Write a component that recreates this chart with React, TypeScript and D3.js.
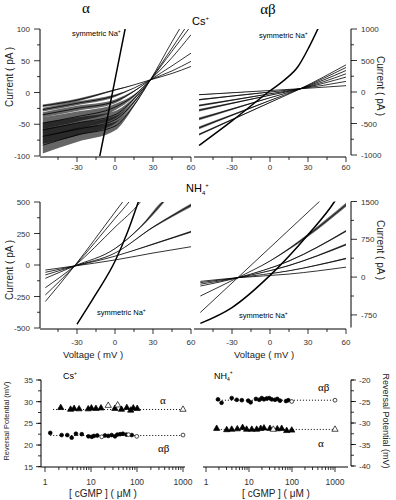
import React from "react";
import * as d3 from "d3";

type Pt = [number, number];

const SANS = "'Liberation Sans', Arial, sans-serif";
const SERIF = "'Liberation Serif', 'Times New Roman', serif";

// ---------- alpha, Cs+ (pA vs mV) ----------
const csAlpha: Pt[][] = [
  [[-57, -21], [-30, -12], [0, 4], [15, 12], [28, 20], [45, 30], [60, 41]],
  [[-57, -27], [-30, -17], [0, -5], [15, 7], [28, 20], [45, 34], [60, 49]],
  [[-57, -35], [-30, -25], [0, -14], [15, 2], [28, 20], [45, 42], [60, 62]],
  [[-57, -48], [-30, -38], [0, -23], [15, -5], [28, 20], [45, 55], [60, 91]],
  [[-57, -59], [-30, -48], [0, -35], [15, -10], [28, 20], [45, 65], [60, 105]],
  [[-57, -69], [-30, -58], [0, -43], [15, -15], [28, 20], [45, 70], [60, 115]],
  [[-57, -83], [-30, -67], [0, -53], [15, -20], [28, 20], [45, 80], [60, 130]],
];
// half-width of the current noise at each point (pA)
const csAlphaNoise: number[][] = [
  [2, 2, 1, 0, 0, 0, 0],
  [3, 3, 2, 0, 0, 0, 0],
  [4, 4, 3, 1, 0, 0, 0],
  [9, 8, 5, 2, 0, 0, 0],
  [11, 9, 6, 2, 0, 0, 0],
  [12, 10, 6, 2, 0, 0, 0],
  [13, 11, 7, 2, 0, 0, 0],
];
const csAlphaNa: Pt[] = [[-14, -120], [0, 20], [10, 120]];

// ---------- alpha-beta, Cs+ ----------
const csAb: Pt[][] = [
  [[-56, -43], [-30, -12], [0, 24], [24, 52], [60, 100]],
  [[-56, -122], [-30, -65], [0, 0], [24, 52], [60, 168]],
  [[-56, -216], [-30, -129], [0, -28], [24, 52], [60, 237]],
  [[-56, -290], [-30, -179], [0, -51], [24, 52], [60, 289]],
  [[-56, -427], [-30, -271], [0, -91], [24, 52], [60, 341]],
  [[-56, -569], [-30, -367], [0, -134], [24, 52], [60, 389]],
  [[-56, -675], [-30, -439], [0, -166], [24, 52], [60, 431]],
];
const csAbNoise: number[][] = [
  [6, 4, 0, 0, 0],
  [12, 8, 2, 0, 0],
  [16, 10, 3, 0, 0],
  [20, 12, 4, 0, 0],
  [22, 14, 4, 0, 0],
  [22, 14, 4, 0, 0],
  [16, 10, 3, 0, 0],
];
const csAbNa: Pt[] = [[-56, -848], [-30, -458], [0, 20], [12, 200], [22, 400], [31, 720], [38, 1010]];

// ---------- alpha, NH4+ ----------
const nhAlpha: Pt[][] = [
  [[-55, -40], [-32, -8], [0, 40], [30, 95], [60, 145]],
  [[-55, -58], [-32, -8], [0, 70], [30, 165], [60, 264]],
  [[-55, -79], [-32, -8], [0, 95], [30, 300], [60, 475]],
  [[-55, -106], [-32, -8], [0, 130], [20, 300], [38, 500], [42, 540]],
  [[-55, -180], [-32, -8], [0, 300], [20, 500], [23, 540]],
  [[-55, -238], [-32, -8], [0, 370], [11, 500], [14, 540]],
  [[-55, -290], [-32, -8], [0, 420], [6, 500], [9, 540]],
];
const nhAlphaNoise: number[][] = [
  [0, 0, 0, 0, 0],
  [0, 0, 0, 5, 8],
  [0, 0, 0, 6, 14],
  [0, 0, 2, 6, 12, 0],
  [0, 0, 0, 0, 0],
  [0, 0, 0, 0, 0],
  [0, 0, 0, 0, 0],
];
const nhAlphaNa: Pt[] = [[-30, -470], [-15, -230], [0, 30], [10, 264], [18.4, 500], [20, 545]];

// ---------- alpha-beta, NH4+ ----------
const nhAb: Pt[][] = [
  [[-55, -85], [-25.5, -12], [15, 60], [60, 197]],
  [[-55, -110], [-25.5, -12], [15, 125], [60, 369]],
  [[-55, -140], [-25.5, -12], [15, 230], [60, 645]],
  [[-55, -177], [-25.5, -12], [15, 320], [60, 915]],
  [[-55, -375], [-25.5, -12], [0, 320], [30, 830], [60, 1434]],
  [[-55, -702], [-25.5, -12], [39, 1500], [42, 1570]],
];
const nhAbNoise: number[][] = [
  [0, 0, 0, 0],
  [0, 0, 6, 15],
  [0, 0, 8, 20],
  [0, 0, 8, 22],
  [0, 0, 6, 30, 40],
  [0, 0, 0, 0],
];
const nhAbNa: Pt[] = [[-55, -919], [-30, -604], [0, 34], [30, 842], [51, 1500], [54, 1620]];

// ---------- reversal potentials vs [cGMP] ----------
const csAlphaC = [2.2, 3.6, 4.3, 5.5, 8.7, 10.2, 12.8, 16.5, 33, 46, 60, 73, 83, 101];
const csAlphaE = [28.6, 28.2, 28.4, 28.3, 28.3, 28.5, 28.4, 28.5, 28.4, 28.2, 28.6, 28.0, 28.5, 28.4];
const csAlphaOpenC = [23.7, 38, 1000];
const csAlphaOpenE = [29.1, 29.2, 28.2];
const csAlphaFit = 28.2;

const csAbC = [1.3, 2.3, 3.05, 3.8, 4.7, 6.3, 8.8, 10.4, 11.6, 13.7, 20.1, 23.7, 28.1, 33.2, 37.3, 42.9, 49.3, 58.6, 77.1];
const csAbE = [22.8, 22.3, 22.3, 21.7, 22.6, 22.5, 22.0, 21.9, 22.1, 22.2, 22.2, 22.1, 22.3, 22.0, 22.4, 22.5, 22.6, 22.4, 22.3];
const csAbOpenC = [17.1, 65.4, 98.8, 1000];
const csAbOpenE = [21.9, 22.4, 22.0, 22.3];
const csAbFit = 22.2;

const nhAbC = [1.9, 2.3, 3.96, 5.2, 6.8, 9.6, 10.9, 14.5, 17.3, 19.8, 22.3, 25.8, 29.6, 33.7, 40.2, 45.5, 52.6, 72.6, 82];
const nhAbE = [-24.5, -25.3, -24.2, -24.6, -24.7, -24.8, -25.2, -24.4, -24.6, -24.2, -24.5, -24.3, -24.2, -24.5, -24.6, -24.4, -24.8, -24.9, -24.7];
const nhAbOpenC = [98.6, 1000];
const nhAbOpenE = [-25.0, -24.7];
const nhAbFit = -24.7;

const nhAlphaC = [1.77, 3.03, 3.96, 5.35, 7.1, 8.8, 11.6, 15.1, 18.7, 22.3, 30.7, 45.5, 57.5, 75.2, 98.6];
const nhAlphaE = [-31.3, -31.6, -31.5, -31.4, -31.1, -31.5, -31.5, -31.5, -31.3, -31.2, -31.3, -31.4, -31.3, -31.8, -31.7];
const nhAlphaOpenC = [36.7, 1000];
const nhAlphaOpenE = [-31.5, -31.5];
const nhAlphaFit = -31.5;

const vTicks = [-45, -30, -15, 0, 15, 30, 45, 60];
const vLabels = [-30, 0, 30, 60];
const cLabels = [1, 10, 100, 1000];

type IVProps = {
  id: string;
  xRange: [number, number];
  yDomain: [number, number];
  yRange: [number, number];
  axisX: number;
  side: "left" | "right";
  yLabels: number[];
  yMinor: number[];
  xAxisY: number;
  xLabelY: number;
  traces: Pt[][];
  noise: number[][];
  na: Pt[];
};

function IVPanel(p: IVProps) {
  const x = d3.scaleLinear().domain([-60, 60]).range(p.xRange);
  const y = d3.scaleLinear().domain(p.yDomain).range(p.yRange);
  const line = d3.line<Pt>().x((d) => x(d[0])).y((d) => y(d[1])).curve(d3.curveMonotoneX);
  const dir = p.side === "left" ? -1 : 1;
  const top = p.yRange[1];
  const bot = p.yRange[0];
  return (
    <g>
      <defs>
        <clipPath id={p.id}>
          <rect x={p.xRange[0]} y={top} width={p.xRange[1] - p.xRange[0]} height={bot - top} />
        </clipPath>
      </defs>
      <g clipPath={`url(#${p.id})`}>
        {p.traces.map((t, i) => {
          const n = p.noise[i];
          const band = d3
            .area<Pt>()
            .x((d) => x(d[0]))
            .y0((d, j) => y(d[1] - (n[j] || 0)))
            .y1((d, j) => y(d[1] + (n[j] || 0)))
            .curve(d3.curveMonotoneX);
          return (
            <g key={i}>
              <path d={band(t) || ""} fill="#000" opacity={0.6} />
              <path d={line(t) || ""} fill="none" stroke="#000" strokeWidth={0.8} />
            </g>
          );
        })}
        <path d={line(p.na) || ""} fill="none" stroke="#000" strokeWidth={1.5} />
      </g>
      {/* y axis */}
      <line x1={p.axisX} x2={p.axisX} y1={top} y2={bot} stroke="#000" strokeWidth={1} />
      {p.yMinor.map((v) => (
        <line key={"m" + v} x1={p.axisX} x2={p.axisX + dir * 3} y1={y(v)} y2={y(v)} stroke="#000" strokeWidth={0.8} />
      ))}
      {p.yLabels.map((v) => (
        <g key={v}>
          <line x1={p.axisX} x2={p.axisX + dir * 6} y1={y(v)} y2={y(v)} stroke="#000" strokeWidth={0.8} />
          <text
            x={p.axisX + dir * 10}
            y={y(v) + 3}
            fontSize={8}
            fontFamily={SANS}
            fill="#333"
            textAnchor={p.side === "left" ? "end" : "start"}
          >
            {v}
          </text>
        </g>
      ))}
      {/* x axis */}
      <line x1={p.side === "left" ? p.axisX : p.xRange[0]} x2={p.xRange[1]} y1={p.xAxisY} y2={p.xAxisY} stroke="#000" strokeWidth={1} />
      {vTicks.map((v) => (
        <line
          key={v}
          x1={x(v)}
          x2={x(v)}
          y1={p.xAxisY}
          y2={p.xAxisY + (vLabels.includes(v) ? 5 : 3)}
          stroke="#000"
          strokeWidth={0.8}
        />
      ))}
      {vLabels.map((v) => (
        <text key={v} x={x(v)} y={p.xLabelY} fontSize={8} fontFamily={SANS} fill="#333" textAnchor="middle">
          {v}
        </text>
      ))}
    </g>
  );
}

type RevProps = {
  xRange: [number, number];
  yDomain: [number, number];
  yRange: [number, number];
  axisX: number;
  side: "left" | "right";
  xAxis: [number, number];
  yLabels: number[];
  series: { c: number[]; e: number[]; oc: number[]; oe: number[]; fit: number; sym: "tri" | "circ"; c0: number }[];
};

function RevPanel(p: RevProps) {
  const x = d3.scaleLog().domain([1, 1000]).range(p.xRange);
  const y = d3.scaleLinear().domain(p.yDomain).range(p.yRange);
  const dir = p.side === "left" ? -1 : 1;
  const tri = d3.symbol().type(d3.symbolTriangle).size(17)() || "";
  const minorY = d3.range(p.yDomain[0], p.yDomain[1] + 0.01, 2.5);
  const minorX: number[] = [];
  [1, 10, 100].forEach((b) => d3.range(2, 10).forEach((k) => minorX.push(b * k)));
  const axY = 467;
  const mark = (sym: string, cx: number, cy: number, open: boolean, k: string) =>
    sym === "tri" ? (
      <path key={k} d={tri} transform={`translate(${cx},${cy})`} fill={open ? "#fff" : "#000"} stroke="#000" strokeWidth={0.7} />
    ) : (
      <circle key={k} cx={cx} cy={cy} r={1.9} fill={open ? "#fff" : "#000"} stroke="#000" strokeWidth={0.7} />
    );
  return (
    <g>
      {p.series.map((s, i) => (
        <g key={i}>
          <line x1={x(s.c0)} x2={x(1000)} y1={y(s.fit)} y2={y(s.fit)} stroke="#000" strokeWidth={1} strokeDasharray="1 2" />
          {s.c.map((c, j) => mark(s.sym, x(c), y(s.e[j]), false, "f" + j))}
          {s.oc.map((c, j) => mark(s.sym, x(c), y(s.oe[j]), true, "o" + j))}
        </g>
      ))}
      <line x1={p.axisX} x2={p.axisX} y1={p.yRange[1]} y2={p.yRange[0]} stroke="#000" strokeWidth={1} />
      {minorY.map((v) => (
        <line key={"m" + v} x1={p.axisX} x2={p.axisX + dir * 3} y1={y(v)} y2={y(v)} stroke="#000" strokeWidth={0.8} />
      ))}
      {p.yLabels.map((v) => (
        <g key={v}>
          <line x1={p.axisX} x2={p.axisX + dir * 5} y1={y(v)} y2={y(v)} stroke="#000" strokeWidth={0.8} />
          <text
            x={p.axisX + dir * 8}
            y={y(v) + 3}
            fontSize={8}
            fontFamily={SANS}
            fill="#333"
            textAnchor={p.side === "left" ? "end" : "start"}
          >
            {v}
          </text>
        </g>
      ))}
      <line x1={p.xAxis[0]} x2={p.xAxis[1]} y1={axY} y2={axY} stroke="#000" strokeWidth={1} />
      {minorX.map((c) => (
        <line key={c} x1={x(c)} x2={x(c)} y1={axY} y2={axY + 3} stroke="#000" strokeWidth={0.8} />
      ))}
      {cLabels.map((c) => (
        <g key={c}>
          <line x1={x(c)} x2={x(c)} y1={axY} y2={axY + 5} stroke="#000" strokeWidth={0.8} />
          <text x={x(c)} y={485} fontSize={8.5} fontFamily={SANS} fill="#333" textAnchor="middle">
            {c}
          </text>
        </g>
      ))}
    </g>
  );
}

export default function App() {
  return (
    <svg width={396} height={500} style={{ position: "absolute", left: 0, top: 0, background: "#fff" }}>
      <rect width={396} height={500} fill="#fff" />
      {/* titles */}
      <text x={86} y={13} fontSize={15} fontFamily={SERIF} textAnchor="middle">α</text>
      <text x={268} y={14} fontSize={15} fontFamily={SERIF} textAnchor="middle">αβ</text>
      <text x={192} y={25} fontSize={11} fontFamily={SANS}>
        Cs<tspan fontSize={6} dy={-5}>+</tspan>
      </text>
      <text x={186} y={192} fontSize={11} fontFamily={SANS}>
        NH<tspan fontSize={6} dy={3}>4</tspan><tspan fontSize={6} dy={-8}>+</tspan>
      </text>

      <IVPanel
        id="c1" xRange={[39, 191]} yDomain={[-100, 100]} yRange={[156, 29]} axisX={40} side="left"
        yLabels={[-100, -50, 0, 50, 100]} yMinor={[-75, -25, 25, 75]} xAxisY={157} xLabelY={170}
        traces={csAlpha} noise={csAlphaNoise} na={csAlphaNa}
      />
      <IVPanel
        id="c2" xRange={[194, 346]} yDomain={[-1000, 1000]} yRange={[155, 29]} axisX={351} side="right"
        yLabels={[-1000, -500, 0, 500, 1000]} yMinor={[-750, -250, 250, 750]} xAxisY={157} xLabelY={170}
        traces={csAb} noise={csAbNoise} na={csAbNa}
      />
      <IVPanel
        id="c3" xRange={[39, 191]} yDomain={[-500, 500]} yRange={[328, 202]} axisX={40} side="left"
        yLabels={[-500, -250, 0, 250, 500]} yMinor={[-375, -125, 125, 375]} xAxisY={329} xLabelY={345}
        traces={nhAlpha} noise={nhAlphaNoise} na={nhAlphaNa}
      />
      <IVPanel
        id="c4" xRange={[194, 346]} yDomain={[-1000, 1500]} yRange={[327.5, 201.5]} axisX={351} side="right"
        yLabels={[-750, 0, 750, 1500]} yMinor={[-375, 375, 1125]} xAxisY={329} xLabelY={345}
        traces={nhAb} noise={nhAbNoise} na={nhAbNa}
      />

      {/* symmetric Na+ labels */}
      <text x={72} y={36} fontSize={7.5} fontFamily={SANS}>symmetric Na<tspan fontSize={5} dy={-3}>+</tspan></text>
      <text x={259} y={38} fontSize={7.5} fontFamily={SANS}>symmetric Na<tspan fontSize={5} dy={-3}>+</tspan></text>
      <text x={97} y={315} fontSize={7.5} fontFamily={SANS}>symmetric Na<tspan fontSize={5} dy={-3}>+</tspan></text>
      <text x={239} y={318} fontSize={7.5} fontFamily={SANS}>symmetric Na<tspan fontSize={5} dy={-3}>+</tspan></text>

      {/* axis titles */}
      <text transform="translate(13,77) rotate(-90)" fontSize={10} fontFamily={SANS} textAnchor="middle" fill="#222">Current  ( pA )</text>
      <text transform="translate(377,86) rotate(90)" fontSize={10} fontFamily={SANS} textAnchor="middle" fill="#222">Current  ( pA )</text>
      <text transform="translate(13,270) rotate(-90)" fontSize={10} fontFamily={SANS} textAnchor="middle" fill="#222">Current  ( pA )</text>
      <text transform="translate(377,250) rotate(90)" fontSize={10} fontFamily={SANS} textAnchor="middle" fill="#222">Current  ( pA )</text>
      <text x={93} y={358} fontSize={9.5} fontFamily={SANS} textAnchor="middle" fill="#222">Voltage   ( mV )</text>
      <text x={264} y={358} fontSize={9.5} fontFamily={SANS} textAnchor="middle" fill="#222">Voltage   ( mV )</text>

      <RevPanel
        xRange={[45, 183]} yDomain={[15, 35]} yRange={[466.7, 380]} axisX={41} side="left" xAxis={[41, 185]}
        yLabels={[15, 20, 25, 30, 35]}
        series={[
          { c: csAlphaC, e: csAlphaE, oc: csAlphaOpenC, oe: csAlphaOpenE, fit: csAlphaFit, sym: "tri", c0: 1.5 },
          { c: csAbC, e: csAbE, oc: csAbOpenC, oe: csAbOpenE, fit: csAbFit, sym: "circ", c0: 1.3 },
        ]}
      />
      <RevPanel
        xRange={[206, 335]} yDomain={[-40, -20]} yRange={[466, 380]} axisX={351} side="right" xAxis={[203, 348]}
        yLabels={[-40, -35, -30, -25, -20]}
        series={[
          { c: nhAbC, e: nhAbE, oc: nhAbOpenC, oe: nhAbOpenE, fit: nhAbFit, sym: "circ", c0: 1.7 },
          { c: nhAlphaC, e: nhAlphaE, oc: nhAlphaOpenC, oe: nhAlphaOpenE, fit: nhAlphaFit, sym: "tri", c0: 1.6 },
        ]}
      />
      <text x={63} y={379} fontSize={9} fontFamily={SANS}>Cs<tspan fontSize={5} dy={-4}>+</tspan></text>
      <text x={214} y={379} fontSize={9} fontFamily={SANS}>NH<tspan fontSize={5} dy={2}>4</tspan><tspan fontSize={5} dy={-7}>+</tspan></text>
      <text x={160} y={404} fontSize={11} fontFamily={SERIF}>α</text>
      <text x={158} y={452} fontSize={11} fontFamily={SERIF}>αβ</text>
      <text x={318} y={391} fontSize={11} fontFamily={SERIF}>αβ</text>
      <text x={318} y={447} fontSize={11} fontFamily={SERIF}>α</text>
      <text transform="translate(9,421) rotate(-90)" fontSize={7.5} fontFamily={SANS} textAnchor="middle" fill="#222">Reversal Potential  (mV)</text>
      <text transform="translate(383,421) rotate(90)" fontSize={9} fontFamily={SANS} textAnchor="middle" fill="#222">Reversal Potential  (mV)</text>
      <text x={103} y={497} fontSize={10} fontFamily={SANS} textAnchor="middle" fill="#222">[ cGMP ]   ( μM )</text>
      <text x={276} y={497} fontSize={10} fontFamily={SANS} textAnchor="middle" fill="#222">[ cGMP ]   ( μM )</text>
    </svg>
  );
}
